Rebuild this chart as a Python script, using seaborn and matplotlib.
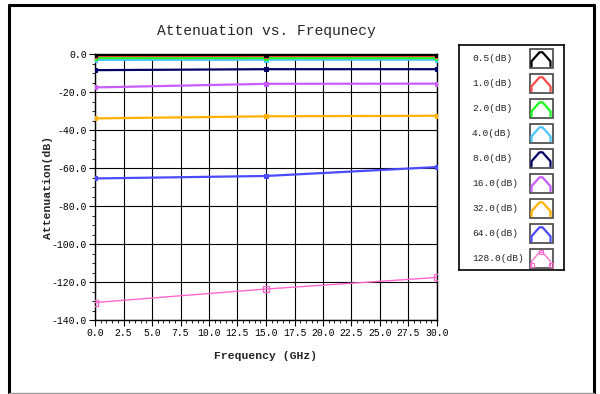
import numpy as np
import pandas as pd
import seaborn as sns
import matplotlib.pyplot as plt
from matplotlib.lines import Line2D
from matplotlib.patches import Rectangle
from matplotlib.ticker import MultipleLocator, FormatStrFormatter

# Data
freq = [0.0, 15.0, 30.0]
labels = ["0.5(dB)", "1.0(dB)", "2.0(dB)", "4.0(dB)", "8.0(dB)",
          "16.0(dB)", "32.0(dB)", "64.0(dB)", "128.0(dB)"]
att_05 = [-0.5, -0.5, -0.5]
att_1 = [-1.1, -1.1, -1.1]
att_2 = [-1.9, -1.9, -1.9]
att_4 = [-3.1, -3.0, -3.0]
att_8 = [-8.5, -8.0, -8.0]
att_16 = [-17.6, -15.7, -15.6]
att_32 = [-33.9, -32.8, -32.5]
att_64 = [-65.5, -64.2, -59.5]
att_128 = [-130.8, -123.7, -117.6]
series = [att_05, att_1, att_2, att_4, att_8, att_16, att_32, att_64, att_128]
colors = ["#000000", "#ff4a4a", "#1aff1a", "#4cc4ff", "#000066",
          "#c85cff", "#ffb000", "#4a4aff", "#ff66cc"]

sns.set_theme(style="white")
plt.rcParams['font.family'] = ['Liberation Mono', 'DejaVu Sans Mono']
plt.rcParams['axes.unicode_minus'] = False

W, H = 600, 394
fig = plt.figure(figsize=(6, 3.94), dpi=100)
ax = fig.add_axes([95 / W, 1 - 320 / H, 342 / W, 266 / H])

# long form table for seaborn
rows = []
for lab, vals in zip(labels, series):
    for f, v in zip(freq, vals):
        rows.append({"freq": f, "att": v, "label": lab})
df = pd.DataFrame(rows)

for i, (lab, c) in enumerate(zip(labels, colors)):
    sub = df[df["label"] == lab]
    if lab == "128.0(dB)":
        sns.lineplot(data=sub, x="freq", y="att", ax=ax, color=c, lw=1.0,
                     marker="s", markersize=4, markerfacecolor="none",
                     markeredgecolor=c, markeredgewidth=1.0, zorder=3)
    else:
        sns.lineplot(data=sub, x="freq", y="att", ax=ax, color=c, lw=1.6,
                     marker="s", markersize=3, markeredgecolor=c,
                     zorder=3 + (9 - i) * 0.1)

ax.set_xlim(0, 30)
ax.set_ylim(-140, 0)
ax.xaxis.set_major_locator(MultipleLocator(2.5))
ax.xaxis.set_minor_locator(MultipleLocator(0.5))
ax.yaxis.set_major_locator(MultipleLocator(20))
ax.yaxis.set_minor_locator(MultipleLocator(5))
ax.xaxis.set_major_formatter(FormatStrFormatter("%.1f"))
ax.yaxis.set_major_formatter(FormatStrFormatter("%.1f"))
ax.tick_params(which="both", direction="out", bottom=True, left=True,
               colors="black", labelsize=7, pad=2)
ax.tick_params(which="major", length=4, width=0.8)
ax.tick_params(which="minor", length=2.5, width=0.6)
ax.grid(True, which="major", color="black", lw=0.8)
for s in ax.spines.values():
    s.set_color("black")
    s.set_linewidth(1.0)

ax.set_title("Attenuation vs. Frequnecy", fontsize=10.5, pad=14)
ax.set_xlabel("Frequency (GHz)", fontsize=8.2, fontweight="bold")
ax.set_ylabel("Attenuation(dB)", fontsize=8.2, fontweight="bold")
ax.xaxis.set_label_coords(0.5, -0.118)
ax.yaxis.set_label_coords(-0.123, 0.5)

# legend panel drawn in pixel coordinates
lg = fig.add_axes([459 / W, 1 - 270 / H, 105 / W, 225 / H])
lg.set_xlim(459, 564)
lg.set_ylim(270, 45)
lg.set_xticks([])
lg.set_yticks([])
for s in lg.spines.values():
    s.set_color("black")
    s.set_linewidth(1.2)
for i, (lab, c) in enumerate(zip(labels, colors)):
    yc = 58.3 + i * 25.0
    lg.text(472, yc, lab, fontsize=6.8, va="center", ha="left", color="#222222")
    lg.add_patch(Rectangle((529.5, yc - 9.5), 23, 19, fill=False,
                           ec="#444444", lw=1.2))
    px = [531.5, 531.5, 539.5, 542.5, 550.5, 550.5]
    py = [yc + 8, yc + 3, yc - 6, yc - 6, yc + 3, yc + 8]
    if lab == "128.0(dB)":
        lg.plot(px, py, color=c, lw=0.9)
        lg.plot([531.5, 541, 550.5], [yc + 7, yc - 6, yc + 7], ls="none",
                marker="s", ms=3, mfc="none", mec=c, mew=0.8)
    else:
        lg.plot(px, py, color=c, lw=1.6)

# outer frame of the window
frame = [((9, 5), (9, 393), "black", 2.2), ((9, 5), (594, 5), "black", 2.2),
         ((594, 5), (594, 393), "black", 2.2), ((9, 392.5), (594, 392.5), "#999999", 1.0)]
for (x0, y0), (x1, y1), c, w in frame:
    fig.add_artist(Line2D([x0 / W, x1 / W], [1 - y0 / H, 1 - y1 / H],
                          transform=fig.transFigure, color=c, lw=w))

fig.savefig("out.png", dpi=100)
